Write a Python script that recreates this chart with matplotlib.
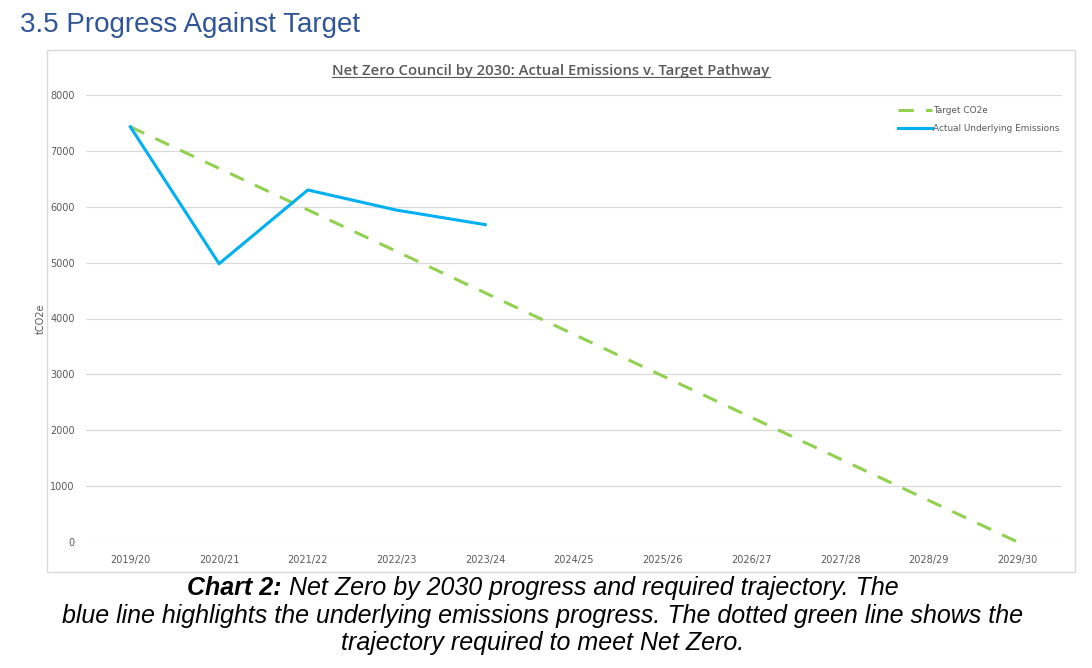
import matplotlib
matplotlib.use('Agg')
import matplotlib.pyplot as plt
from matplotlib.lines import Line2D
from matplotlib.patches import Rectangle

years = ['2019/20', '2020/21', '2021/22', '2022/23', '2023/24', '2024/25',
         '2025/26', '2026/27', '2027/28', '2028/29', '2029/30']
target = [7430, 6687, 5944, 5201, 4458, 3715, 2972, 2229, 1486, 743, 0]
actual = [7430, 4980, 6300, 5940, 5680]

fig = plt.figure(figsize=(10.92, 6.68), dpi=100)

# section heading
fig.text(20/1092, 1-25/668, '3.5 Progress Against Target', fontsize=20,
         color='#2F5597', family='Liberation Sans', va='center', ha='left')

# chart border
fig.patches.append(Rectangle((47/1092, 1-572/668), 1028/1092, 522/668,
                             transform=fig.transFigure, fill=False,
                             edgecolor='#D9D9D9', linewidth=1))

ax = fig.add_axes([86/1092, 1-542/668, 976/1092, 447/668])
x = list(range(len(years)))
ax.plot(x, target, color='#92D050', linewidth=2.2, dashes=(5, 4), label='Target CO2e')
ax.plot(x[:len(actual)], actual, color='#00B0F0', linewidth=2.2,
        label='Actual Underlying Emissions')

ax.set_xlim(-0.5, 10.5)
ax.set_ylim(0, 8000)
ax.set_xticks(x)
ax.set_xticklabels(years)
ax.set_yticks(range(0, 8001, 1000))
ax.tick_params(length=0, labelsize=7, labelcolor='#595959')
ax.tick_params(axis='x', pad=9)
ax.tick_params(axis='y', pad=8)
ax.grid(axis='y', color='#D9D9D9', linewidth=0.9)
ax.set_axisbelow(True)
for s in ax.spines.values():
    s.set_visible(False)
ax.set_ylabel('tCO2e', fontsize=7, color='#595959', labelpad=3)

leg = ax.legend(loc='upper left', bbox_to_anchor=(898/1092, 1-106/668),
                bbox_transform=fig.transFigure, frameon=False, borderpad=0,
                borderaxespad=0, fontsize=6.4, handlelength=3.8, handletextpad=0.1,
                labelspacing=1.0, labelcolor='#595959')

t = fig.text(551/1092, 1-71/668,
             'Net Zero Council by 2030: Actual Emissions v. Target Pathway',
             fontsize=10.7, color='#595959', ha='center', va='center',
             family='Open Sans', fontweight='semibold')
fig.canvas.draw()
bb = t.get_window_extent()
fig.lines.append(Line2D([bb.x0, bb.x1], [bb.y0 + 1, bb.y0 + 1], color='#595959',
                        linewidth=0.8, transform=None))

cap_font = ['Liberation Sans Narrow', 'Liberation Sans', 'DejaVu Sans']
cap_size = 18
# first caption line: bold label + italic text
cap1a = fig.text(0, 0, 'Chart 2:', fontsize=cap_size, family=cap_font,
                 style='italic', fontweight='bold', color='black', va='center')
cap1b = fig.text(0, 0, ' Net Zero by 2030 progress and required trajectory. The',
                 fontsize=cap_size, family=cap_font, style='italic', color='black',
                 va='center')
fig.canvas.draw()
wa = cap1a.get_window_extent().width
wb = cap1b.get_window_extent().width
start = 543 - (wa + wb) / 2
cap1a.set_position((start/1092, 1-588/668))
cap1b.set_position(((start + wa)/1092, 1-588/668))
fig.text(543/1092, 1-616/668,
         'blue line highlights the underlying emissions progress. The dotted green line shows the',
         fontsize=cap_size, family=cap_font, style='italic', ha='center', va='center')
fig.text(543/1092, 1-643/668, 'trajectory required to meet Net Zero.',
         fontsize=cap_size, family=cap_font, style='italic', ha='center', va='center')

fig.savefig('out.png', dpi=100)
